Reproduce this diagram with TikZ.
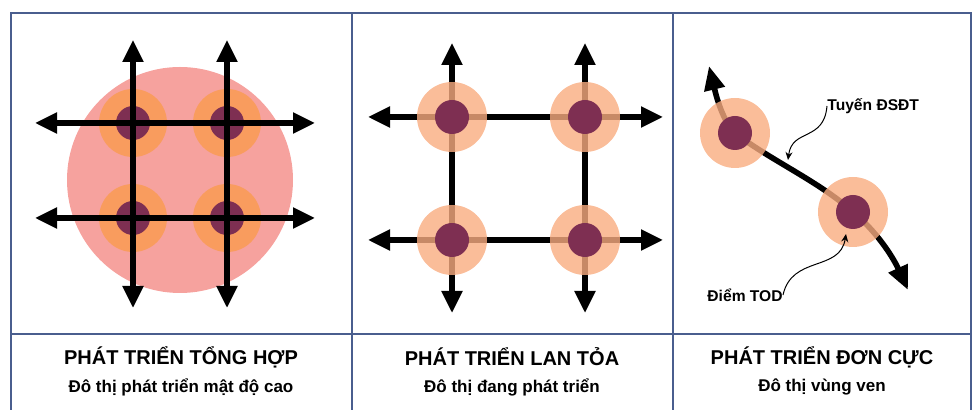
\documentclass[tikz,border=0pt]{standalone}
\usepackage{fontspec}
\setmainfont{Liberation Sans}
\usepackage{tikz}
\usetikzlibrary{arrows.meta}
\usetikzlibrary{positioning}
\definecolor{framebl}{HTML}{4A5E8E}
\definecolor{citypink}{HTML}{F6A29E}
\definecolor{todorange}{HTML}{F99C5E}
\definecolor{todlight}{HTML}{F9AC80}
\definecolor{todcore}{HTML}{7E2F52}
\tikzset{
	frame/.style={draw=framebl, line width=1pt},
	road/.style={draw=black, line width=2.6pt,
		{Triangle[length=11pt,width=10pt]}-{Triangle[length=11pt,width=10pt]}},
	railroad/.style={draw=black, line width=2.8pt,
		{Triangle[length=12pt,width=10pt]}-{Triangle[length=12pt,width=10pt]}},
	citydisc/.style={circle, fill=citypink, minimum size=113pt, inner sep=0pt},
	ring/.style={circle, fill=todorange, minimum size=34pt, inner sep=0pt},
	ringlight/.style={circle, fill=todlight, fill opacity=0.8, minimum size=35pt, inner sep=0pt},
	core/.style={circle, fill=todcore, minimum size=17pt, inner sep=0pt},
	title/.style={font=\bfseries\fontsize{10}{12}\selectfont},
	subtitle/.style={font=\bfseries\fontsize{8.5}{10}\selectfont},
	tag/.style={font=\bfseries\fontsize{7.8}{9}\selectfont, inner sep=0pt},
	leader/.style={draw=black, line width=0.5pt, -{Stealth[length=4pt,width=3.5pt]}},
}

\begin{document}
\begin{tikzpicture}[x=0.5pt, y=-0.5pt]
	\useasboundingbox (0,0) rectangle (976,410);
	\clip (0,0) rectangle (976,410);
	% table
	\draw[frame] (11,420) -- (11,13) -- (971,13) -- (971,420);
	\draw[frame] (352,13) -- (352,420);
	\draw[frame] (673,13) -- (673,420);
	\draw[frame] (11,334) -- (971,334);
	% panel 1
	\node[citydisc] (city) at (180,180) {};
	\node[ring] (a1) at (133,123) {};
	\node[ring] (a2) at (227,123) {};
	\node[ring] (a3) at (133,218) {};
	\node[ring] (a4) at (227,218) {};
	\node[core] (c1) at (a1) {};
	\node[core] (c2) at (a2) {};
	\node[core] (c3) at (a3) {};
	\node[core] (c4) at (a4) {};
	\coordinate (n1) at (133,40);
	\coordinate (s1) at (133,308);
	\coordinate (n2) at (227,40);
	\coordinate (s2) at (227,308);
	\coordinate (w1) at (35,123);
	\coordinate (e1) at (315,123);
	\coordinate (w2) at (35,218);
	\coordinate (e2) at (315,218);
	\draw[road] (n1) -- (s1);
	\draw[road] (n2) -- (s2);
	\draw[road] (w1) -- (e1);
	\draw[road] (w2) -- (e2);
	% panel 2
	\coordinate (bn1) at (452,43);
	\coordinate (bs1) at (452,313);
	\coordinate (bn2) at (585,43);
	\coordinate (bs2) at (585,313);
	\coordinate (bw1) at (368,117);
	\coordinate (be1) at (663,117);
	\coordinate (bw2) at (368,240);
	\coordinate (be2) at (663,240);
	\draw[road] (bn1) -- (bs1);
	\draw[road] (bn2) -- (bs2);
	\draw[road] (bw1) -- (be1);
	\draw[road] (bw2) -- (be2);
	\node[ringlight] (b1) at (452,117) {};
	\node[ringlight] (b2) at (585,117) {};
	\node[ringlight] (b3) at (452,240) {};
	\node[ringlight] (b4) at (585,240) {};
	\node[core] at (b1) {};
	\node[core] at (b2) {};
	\node[core] at (b3) {};
	\node[core] at (b4) {};
	% panel 3
	\coordinate (top) at (709,66);
	\coordinate (p1) at (735,133);
	\coordinate (p2) at (853,212);
	\coordinate (bot) at (908,290);
	\draw[railroad] (top) .. controls (716,95) and (722,120) .. (p1)
		.. controls (770,160) and (820,182) .. (p2)
		.. controls (875,230) and (892,255) .. (bot);
	\node[ringlight] (d1) at (p1) {};
	\node[ringlight] (d2) at (p2) {};
	\node[core] (k1) at (d1) {};
	\node[core] (k2) at (d2) {};
	\node[tag, anchor=west] (line) at (827,106) {Tuyến ĐSĐT};
	\node[tag, anchor=east] (tod) at (783,295) {Điểm TOD};
	\draw[leader] (line.west) .. controls (824,142) and (792,128) .. (788,160);
	\draw[leader] (tod.east) .. controls (792,255) and (840,272) .. (846,234);
	% captions
	\node[title] (h1) at (181,357) {PHÁT TRIỂN TỔNG HỢP};
	\node[subtitle] (u1) at (181,387) {Đô thị phát triển mật độ cao};
	\node[title] (h2) at (512,357) {PHÁT TRIỂN LAN TỎA};
	\node[subtitle] (u2) at (512,387) {Đô thị đang phát triển};
	\node[title] (h3) at (822,357) {PHÁT TRIỂN ĐƠN CỰC};
	\node[subtitle] (u3) at (822,387) {Đô thị vùng ven};
\end{tikzpicture}
\end{document}
